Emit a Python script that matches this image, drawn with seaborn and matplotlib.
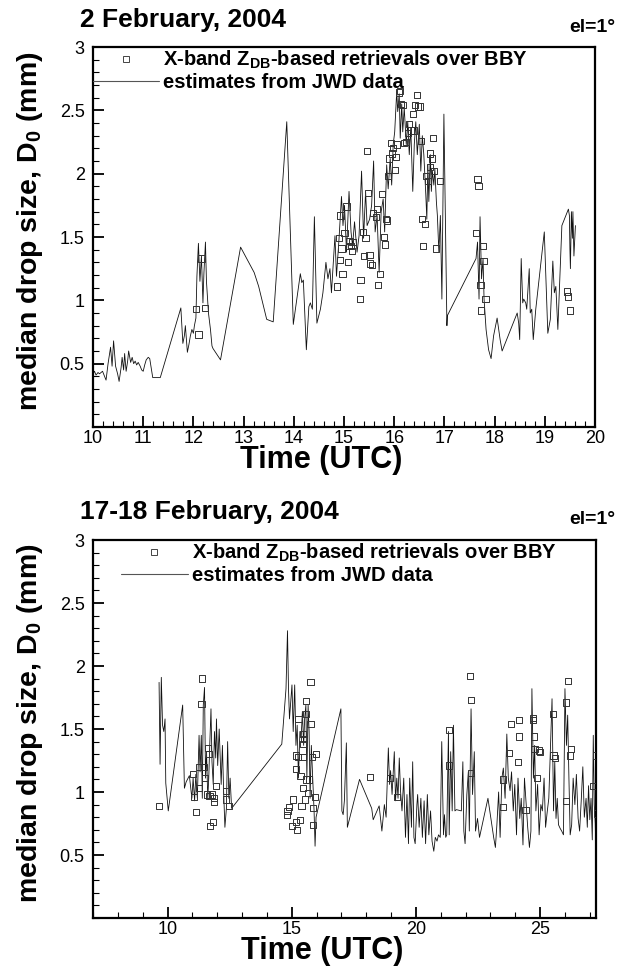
import numpy as np
import pandas as pd
import matplotlib
matplotlib.use("Agg")
import matplotlib.pyplot as plt
from matplotlib.lines import Line2D
from matplotlib.ticker import MultipleLocator, FixedLocator
import seaborn as sns

# ---------------- data: 2 February 2004 ----------------
feb2_jwd_t = [10.00, 10.03, 10.06, 10.10, 10.13, 10.19, 10.26, 10.30, 10.35, 10.38, 10.41, 10.45, 10.49, 10.52,
              10.56, 10.58, 10.61, 10.63, 10.66, 10.69, 10.71, 10.75, 10.78, 10.81, 10.84, 10.87, 10.90, 10.94,
              10.97, 11.00, 11.03, 11.06, 11.10, 11.13, 11.19, 11.34, 11.75, 11.79, 11.82, 11.84, 11.88, 11.91,
              11.94, 11.97, 12.00, 12.02, 12.05, 12.07, 12.10, 12.13, 12.16, 12.19, 12.21, 12.24, 12.26, 12.30,
              12.34, 12.37, 12.39, 12.54, 12.94, 13.21, 13.30, 13.46, 13.59, 13.86, 13.99, 14.13, 14.16, 14.19,
              14.25, 14.30, 14.33, 14.37, 14.41, 14.46, 14.53, 14.58, 14.64, 14.68, 14.72, 14.75, 14.82, 14.85,
              14.90, 14.95, 14.98, 15.01, 15.05, 15.10, 15.14, 15.17, 15.21, 15.26, 15.30, 15.35, 15.39, 15.43,
              15.46, 15.51, 15.55, 15.59, 15.62, 15.66, 15.70, 15.74, 15.78, 15.81, 15.85, 15.88, 15.92, 15.95,
              15.98, 16.01, 16.05, 16.07, 16.10, 16.12, 16.15, 16.17, 16.20, 16.24, 16.27, 16.30, 16.33, 16.37,
              16.40, 16.43, 16.46, 16.50, 16.53, 16.56, 16.59, 16.63, 16.65, 16.67, 16.69, 16.72, 16.74, 16.76,
              16.79, 16.81, 16.84, 16.86, 16.89, 16.92, 16.95, 16.99, 17.05, 17.06, 17.63, 17.66, 17.69, 17.71,
              17.74, 17.77, 17.79, 17.83, 17.88, 17.93, 17.98, 18.05, 18.11, 18.15, 18.32, 18.45, 18.48, 18.50,
              18.53, 18.56, 18.58, 18.62, 18.64, 18.69, 18.71, 18.74, 18.77, 18.82, 18.99, 19.06, 19.11, 19.16,
              19.19, 19.22, 19.26, 19.34, 19.47, 19.49, 19.50, 19.51, 19.53, 19.55, 19.56, 19.58, 19.61]
feb2_jwd_d0 = [0.42, 0.44, 0.41, 0.43, 0.42, 0.44, 0.37, 0.50, 0.63, 0.48, 0.68, 0.48, 0.42, 0.36,
               0.47, 0.55, 0.45, 0.58, 0.44, 0.52, 0.60, 0.51, 0.55, 0.50, 0.52, 0.49, 0.51, 0.48,
               0.45, 0.44, 0.49, 0.53, 0.55, 0.54, 0.39, 0.39, 0.94, 0.66, 0.72, 0.80, 0.59, 0.65,
               0.72, 0.77, 0.74, 0.80, 0.86, 1.19, 1.45, 1.15, 1.35, 0.98, 1.22, 1.46, 1.15, 0.90,
               0.77, 0.64, 0.62, 0.53, 1.42, 1.22, 1.11, 0.85, 0.83, 2.41, 0.81, 1.21, 1.14, 1.16,
               0.61, 0.95, 0.98, 0.93, 1.66, 0.82, 0.93, 1.06, 1.30, 1.17, 1.25, 1.06, 1.51, 1.19,
               1.48, 1.82, 1.59, 1.75, 1.38, 1.86, 1.54, 1.43, 1.62, 1.38, 1.51, 2.02, 1.49, 1.86,
               1.59, 1.64, 1.75, 2.10, 1.54, 1.67, 1.22, 1.70, 1.80, 1.54, 2.07, 1.88, 2.12, 1.91,
               2.23, 2.33, 2.65, 2.49, 2.63, 2.28, 2.55, 2.33, 2.52, 2.23, 2.41, 2.15, 2.36, 1.86,
               2.23, 2.41, 2.15, 2.39, 2.02, 2.30, 2.15, 1.83, 1.64, 2.07, 1.78, 2.15, 1.86, 2.02,
               1.91, 2.04, 1.78, 1.67, 1.38, 1.67, 1.01, 2.47, 0.80, 0.88, 1.33, 1.46, 1.01, 1.66,
               1.17, 1.33, 1.01, 0.77, 0.61, 0.54, 0.72, 0.86, 0.69, 0.60, 0.77, 0.90, 0.82, 0.69,
               1.33, 0.98, 1.01, 0.98, 0.93, 1.25, 0.90, 0.93, 0.69, 0.93, 1.54, 0.74, 0.85, 1.31,
               1.06, 1.11, 0.77, 1.59, 1.72, 1.67, 1.41, 1.25, 1.70, 1.49, 1.70, 1.35, 1.59]

feb2_xband_t = [12.05, 12.10, 12.16, 12.23, 14.86, 14.90, 14.92, 14.93, 14.95, 14.97, 15.01, 15.05, 15.08,
                15.10, 15.11, 15.14, 15.16, 15.17, 15.32, 15.33, 15.38, 15.40, 15.43, 15.46, 15.48, 15.51,
                15.52, 15.55, 15.58, 15.63, 15.65, 15.67, 15.72, 15.75, 15.79, 15.81, 15.84, 15.86, 15.87,
                15.90, 15.93, 15.95, 15.98, 16.01, 16.03, 16.05, 16.10, 16.12, 16.14, 16.17, 16.19, 16.23,
                16.27, 16.30, 16.33, 16.37, 16.39, 16.42, 16.45, 16.48, 16.52, 16.53, 16.55, 16.58, 16.61,
                16.64, 16.67, 16.71, 16.72, 16.75, 16.77, 16.80, 16.83, 16.92, 17.63, 17.66, 17.68, 17.72,
                17.73, 17.77, 17.78, 17.82, 19.45, 19.47, 19.50]
feb2_xband_d0 = [0.93, 0.73, 1.33, 0.94, 1.11, 1.49, 1.32, 1.67, 1.41, 1.21, 1.53, 1.74, 1.30,
                 1.43, 1.47, 1.43, 1.39, 1.46, 1.01, 1.16, 1.54, 1.35, 1.49, 2.18, 1.85, 1.36,
                 1.29, 1.28, 1.69, 1.66, 1.72, 1.12, 1.21, 1.84, 1.50, 1.44, 1.64, 1.63, 1.98,
                 2.12, 2.24, 2.16, 2.20, 2.03, 2.13, 2.23, 2.64, 2.65, 2.55, 2.54, 2.24, 2.25,
                 2.32, 2.39, 2.34, 2.47, 2.34, 2.54, 2.62, 2.53, 2.53, 2.26, 1.64, 1.43, 1.60,
                 1.98, 1.94, 2.05, 2.16, 2.12, 2.28, 2.02, 1.41, 1.94, 1.53, 1.96, 1.90, 1.12,
                 0.92, 1.43, 1.31, 1.01, 1.07, 1.03, 0.92]

# ---------------- data: 17-18 February 2004 ----------------
feb17_jwd_t = [9.66, 9.70, 9.75, 9.80, 9.85, 9.90, 9.93, 10.03, 10.61, 10.68, 10.75, 10.88, 10.98, 11.03,
               11.09, 11.14, 11.20, 11.27, 11.31, 11.36, 11.40, 11.44, 11.49, 11.53, 11.57, 11.62, 11.66,
               11.70, 11.75, 11.79, 11.84, 11.89, 11.94, 11.97, 12.02, 12.08, 12.16, 12.21, 12.26, 12.31,
               12.37, 12.42, 12.47, 12.52, 12.58, 14.60, 14.70, 14.77, 14.83, 14.87, 14.91, 14.96, 15.01,
               15.06, 15.12, 15.17, 15.22, 15.27, 15.33, 15.38, 15.43, 15.48, 15.52, 15.57, 15.61, 15.66,
               15.70, 15.74, 15.79, 15.85, 15.90, 15.94, 15.98, 16.98, 17.02, 17.07, 17.12, 17.20, 17.24,
               17.73, 18.22, 18.28, 18.52, 18.63, 18.73, 18.80, 18.89, 18.94, 18.98, 19.04, 19.13, 19.18,
               19.23, 19.28, 19.33, 19.38, 19.44, 19.51, 19.58, 19.64, 19.70, 19.75, 19.82, 19.87, 19.92,
               19.97, 20.04, 20.07, 20.13, 20.20, 20.26, 20.33, 20.39, 20.46, 20.52, 20.59, 20.65, 20.72,
               20.78, 20.85, 20.91, 20.98, 21.04, 21.11, 21.15, 21.20, 21.24, 21.31, 21.34, 21.40, 21.46,
               21.51, 21.57, 21.63, 21.83, 21.89, 21.93, 21.98, 22.05, 22.11, 22.15, 22.22, 22.28, 22.35,
               22.40, 22.48, 22.56, 22.90, 23.13, 23.20, 23.26, 23.33, 23.39, 23.46, 23.52, 23.59, 23.66,
               23.72, 23.79, 23.85, 23.92, 23.98, 24.05, 24.11, 24.18, 24.24, 24.31, 24.37, 24.44, 24.50,
               24.57, 24.63, 24.67, 24.73, 24.78, 24.83, 24.90, 24.96, 25.03, 25.09, 25.16, 25.22, 25.29,
               25.35, 25.48, 25.54, 25.59, 25.64, 25.69, 25.74, 25.81, 25.87, 25.94, 26.00, 26.06, 26.11,
               26.16, 26.21, 26.27, 26.33, 26.40, 26.46, 26.53, 26.59, 26.66, 26.72, 26.78, 26.85, 26.90,
               26.95, 27.00, 27.05, 27.10, 27.14, 27.18, 27.22, 27.25]
feb17_jwd_d0 = [1.87, 1.22, 1.91, 1.53, 1.48, 1.58, 1.07, 0.85, 1.69, 1.03, 1.08, 1.13, 0.95, 1.11,
                0.93, 1.14, 0.95, 1.45, 1.16, 1.45, 0.95, 1.69, 1.83, 1.11, 1.32, 0.95, 1.11,
                1.37, 1.66, 1.24, 1.06, 1.48, 1.27, 1.58, 1.21, 1.50, 1.06, 1.37, 1.00, 0.72,
                0.87, 1.40, 0.95, 1.11, 0.87, 1.38, 1.64, 1.82, 2.28, 1.82, 1.58, 1.71, 1.85,
                1.48, 1.85, 1.37, 1.53, 1.11, 1.48, 1.43, 1.64, 1.37, 1.58, 1.69, 1.11, 1.69,
                1.48, 0.95, 1.37, 1.08, 0.85, 0.57, 0.80, 1.66, 0.85, 0.82, 0.93, 1.39, 0.72,
                1.10, 0.87, 0.78, 0.89, 0.69, 0.90, 0.80, 1.35, 1.06, 1.17, 0.98, 1.32, 0.93,
                1.11, 0.95, 1.27, 1.01, 0.85, 1.11, 0.64, 0.98, 0.59, 1.11, 0.72, 1.24, 0.64,
                0.59, 0.90, 0.98, 0.72, 0.95, 0.64, 0.93, 0.59, 0.98, 0.66, 0.85, 0.61, 0.53,
                0.64, 0.61, 0.66, 0.64, 1.40, 0.66, 0.82, 0.64, 0.66, 1.48, 0.66, 1.32, 0.85,
                1.53, 0.85, 0.86, 0.85, 1.24, 0.69, 0.59, 0.98, 1.16, 0.69, 1.66, 0.98, 1.32,
                0.69, 0.79, 0.64, 0.95, 0.64, 0.56, 0.74, 1.00, 0.64, 1.11, 1.19, 0.95, 1.46,
                1.11, 1.01, 1.16, 0.85, 1.06, 0.66, 1.11, 0.79, 0.95, 0.58, 1.11, 0.90, 0.72,
                0.56, 0.69, 1.82, 1.11, 1.37, 0.85, 1.06, 0.66, 0.90, 0.85, 1.11, 0.72, 0.85,
                0.95, 1.74, 0.85, 1.24, 0.79, 0.95, 0.74, 0.71, 0.69, 0.66, 1.82, 1.37, 1.61,
                1.11, 0.66, 0.74, 1.11, 0.90, 1.14, 0.79, 0.69, 0.95, 1.20, 0.80, 0.95, 0.72,
                1.05, 0.78, 0.95, 0.62, 1.45, 0.90, 0.75, 0.45]

feb17_xband_t = [9.67, 11.03, 11.07, 11.14, 11.27, 11.27, 11.37, 11.40, 11.46, 11.52, 11.59, 11.62, 11.66,
                 11.69, 11.70, 11.79, 11.84, 11.86, 11.88, 11.95, 12.34, 12.34, 12.48,
                 14.80, 14.83, 14.88, 15.00, 15.04, 15.16, 15.16, 15.17, 15.20, 15.25, 15.27, 15.33, 15.35,
                 15.39, 15.43, 15.44, 15.44, 15.46, 15.50, 15.52, 15.57, 15.59, 15.59, 15.65, 15.70, 15.76,
                 15.76, 15.81, 15.85, 15.85, 15.95, 15.98, 18.16, 18.95, 19.23,
                 21.32, 21.32, 22.17, 22.21, 22.23, 23.50, 23.51, 23.75, 23.83, 24.11, 24.15, 24.15, 24.41,
                 24.70, 24.71, 24.74, 24.77, 24.86, 24.95, 24.99, 25.51, 25.54, 25.59, 26.03, 26.03, 26.11,
                 26.20, 26.23, 27.15, 27.25, 27.28]
feb17_xband_d0 = [0.89, 1.14, 0.96, 0.84, 1.20, 1.03, 1.70, 1.90, 1.20, 1.11, 0.98, 1.35, 1.30,
                  0.97, 0.73, 0.98, 0.76, 0.92, 0.95, 1.05, 1.01, 0.94, 0.89,
                  0.82, 0.85, 0.88, 0.73, 0.94, 1.29, 1.18, 0.76, 0.70, 1.28, 1.58, 0.78, 1.13,
                  0.89, 1.28, 1.46, 1.38, 1.03, 1.42, 0.94, 1.10, 1.72, 1.62, 0.99, 1.10, 1.87,
                  1.54, 1.28, 0.87, 0.74, 0.96, 1.30, 1.12, 1.11, 0.96,
                  1.49, 1.21, 1.92, 1.73, 1.15, 1.10, 0.88, 1.31, 1.54, 1.24, 1.57, 1.44, 0.86,
                  1.59, 1.57, 1.44, 1.34, 1.11, 1.33, 1.32, 1.62, 1.29, 1.27, 1.71, 0.93, 1.88,
                  1.29, 1.34, 1.05, 1.29, 0.83]

titles = ["2 February, 2004", "17-18 February, 2004"]
elev_label = "el=1\u00b0"
legend_labels = [r"X-band Z$_\mathregular{DB}$-based retrievals over BBY", "estimates from JWD data"]
ylabel = r"median drop size, D$_\mathregular{0}$ (mm)"
xlabel = "Time (UTC)"
yticks = [0.5, 1, 1.5, 2, 2.5, 3]
yticklabels = ["0.5", "1", "1.5", "2", "2.5", "3"]

# ---------------- style ----------------
sns.set_theme(style="white")
plt.rcParams["font.family"] = ["Liberation Sans", "DejaVu Sans"]
plt.rcParams["mathtext.default"] = "regular"
plt.rcParams["text.color"] = "black"
plt.rcParams["axes.labelcolor"] = "black"
plt.rcParams["xtick.color"] = "black"
plt.rcParams["ytick.color"] = "black"

fig = plt.figure(figsize=(6.23, 9.72), dpi=100)
ax1 = fig.add_axes([93 / 623, 1 - 427 / 972, 502 / 623, 380 / 972])
ax2 = fig.add_axes([93 / 623, 1 - 918 / 972, 503 / 623, 378 / 972])

panels = [
    (ax1, feb2_jwd_t, feb2_jwd_d0, feb2_xband_t, feb2_xband_d0, (10, 20), 1, 0.2, 0.0),
    (ax2, feb17_jwd_t, feb17_jwd_d0, feb17_xband_t, feb17_xband_d0, (7, 27.25), 5, 1, 0.056),
]

for ax, lt, lv, st, sv, xlim, xmaj, xmin, legx in panels:
    line_df = pd.DataFrame({"t": lt, "d0": lv})
    pts_df = pd.DataFrame({"t": st, "d0": sv})
    sns.lineplot(data=line_df, x="t", y="d0", sort=False, estimator=None, ax=ax,
                 color="#111111", linewidth=0.6)
    sns.scatterplot(data=pts_df, x="t", y="d0", ax=ax, marker="s", s=20,
                    facecolor="none", edgecolor="#333333", linewidth=0.7, zorder=3)
    ax.set_xlim(*xlim)
    ax.set_ylim(0, 3)
    ax.xaxis.set_major_locator(MultipleLocator(xmaj))
    ax.xaxis.set_minor_locator(MultipleLocator(xmin))
    ax.yaxis.set_major_locator(FixedLocator(yticks))
    ax.set_yticklabels(yticklabels)
    ax.yaxis.set_minor_locator(MultipleLocator(0.1))
    ax.tick_params(which="major", direction="in", length=8, width=1.3, top=False, right=False,
                   bottom=True, left=True, labelsize=13, colors="black")
    ax.tick_params(axis="x", which="major", pad=2)
    ax.tick_params(axis="y", which="major", pad=6)
    ax.tick_params(which="minor", direction="in", length=4, width=0.8, top=False, right=False,
                   bottom=True, left=True, colors="black")
    for sp in ax.spines.values():
        sp.set_visible(True)
        sp.set_color("black")
        sp.set_linewidth(1.6)
    ax.set_xlabel(xlabel, fontsize=22, fontweight="bold", va="center", color="black")
    ax.set_ylabel(ylabel, fontsize=20.5, fontweight="bold", va="center", color="black")
    ax.xaxis.set_label_coords(0.455, -0.088)
    ax.yaxis.set_label_coords(-0.125, 0.515)

    handles = [
        Line2D([], [], linestyle="none", marker="s", markersize=4, markerfacecolor="none",
               markeredgecolor="#444444", markeredgewidth=0.7),
        Line2D([], [], color="#555555", linewidth=0.8),
    ]
    ax.legend(handles, legend_labels, loc="upper left", bbox_to_anchor=(legx, 0.995),
              frameon=False, borderpad=0, borderaxespad=0, handlelength=3.3,
              handletextpad=0.2, labelspacing=0.1,
              prop={"weight": "bold", "size": 14.5}, labelcolor="black")

fig.text(80 / 623, 1 - 20 / 972, titles[0], ha="left", va="center", fontsize=19, fontweight="bold",
         color="black")
fig.text(615 / 623, 1 - 28 / 972, elev_label, ha="right", va="center", fontsize=14, fontweight="bold",
         color="black")
fig.text(80 / 623, 1 - 512 / 972, titles[1], ha="left", va="center", fontsize=19, fontweight="bold",
         color="black")
fig.text(615 / 623, 1 - 520 / 972, elev_label, ha="right", va="center", fontsize=14, fontweight="bold",
         color="black")

fig.savefig("out.png", dpi=100, facecolor="white")
